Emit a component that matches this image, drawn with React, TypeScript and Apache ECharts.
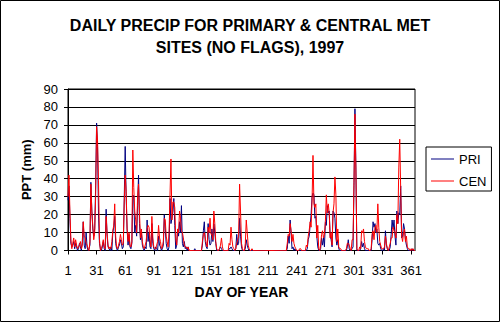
import React, { useEffect, useRef } from "react";
import * as echarts from "echarts";

const titleText = "DAILY PRECIP FOR PRIMARY & CENTRAL MET\nSITES (NO FLAGS), 1997";
const xAxisTitle = "DAY OF YEAR";
const yAxisTitle = "PPT (mm)";
const seriesNames = ["PRI", "CEN"];

const days: string[] = [];
for (let d = 1; d <= 365; d++) days.push(String(d));

const priValues = [
  28, 36, 18, 4, 2, 3, 5, 1, 4, 2,
  0, 1, 4, 2, 0, 5, 16, 3, 1, 10,
  2, 0, 1, 3, 38, 22, 12, 8, 12, 36,
  71, 58, 20, 4, 1, 0, 2, 5, 1, 0,
  23, 8, 2, 1, 0, 2, 0, 10, 13, 19,
  4, 1, 0, 2, 3, 6, 4, 1, 2, 29,
  58, 30, 12, 3, 9, 2, 1, 4, 31, 30,
  10, 14, 8, 25, 42, 15, 6, 10, 3, 1,
  0, 2, 1, 17, 5, 10, 2, 1, 15, 4,
  1, 0, 2, 1, 0, 8, 3, 2, 0, 1,
  3, 20, 12, 4, 1, 0, 2, 29, 15, 18,
  22, 29, 14, 1, 3, 12, 8, 16, 10, 25,
  4, 2, 5, 1, 2, 0, 2, 0, 0, 0,
  0, 0, 0, 1, 0, 0, 0, 0, 0, 0,
  0, 3, 11, 16, 5, 2, 1, 15, 6, 3,
  4, 12, 5, 15, 10, 4, 0, 0, 0, 1,
  2, 1, 0, 0, 0, 0, 0, 0, 0, 1,
  1, 2, 1, 0, 0, 0, 1, 9, 3, 4,
  18, 8, 2, 0, 0, 0, 1, 6, 3, 1,
  0, 0, 0, 0, 0, 0, 0, 0, 0, 0,
  0, 0, 0, 0, 0, 0, 0, 0, 0, 0,
  0, 0, 0, 0, 0, 0, 0, 0, 0, 0,
  0, 0, 0, 0, 0, 0, 0, 0, 0, 0,
  1, 8, 4, 17, 10, 1, 2, 0, 1, 0,
  0, 0, 0, 0, 0, 0, 0, 0, 0, 0,
  0, 1, 6, 8, 14, 20, 30, 32, 31, 18,
  19, 8, 2, 0, 0, 1, 7, 3, 7, 2,
  16, 14, 25, 21, 22, 8, 6, 2, 22, 21,
  18, 7, 3, 6, 1, 0, 0, 0, 0, 0,
  0, 0, 0, 2, 6, 1, 0, 0, 1, 2,
  36, 79, 46, 0, 0, 0, 0, 1, 5, 2,
  4, 1, 0, 0, 0, 0, 0, 0, 0, 6,
  16, 13, 15, 10, 12, 4, 3, 4, 1, 0,
  0, 1, 0, 11, 3, 1, 0, 0, 2, 9,
  17, 12, 17, 8, 3, 22, 15, 21, 20, 36,
  7, 8, 15, 12, 6, 3, 1, 0, 0, 0,
  0, 1, 0, 0, 0,
];

const cenValues = [
  30, 42, 22, 6, 1, 4, 7, 2, 6, 3,
  1, 2, 3, 5, 1, 3, 16, 8, 7, 4,
  3, 1, 0, 5, 37, 22, 14, 6, 10, 30,
  69, 61, 39, 6, 0, 1, 3, 6, 2, 1,
  19, 10, 3, 1, 2, 1, 5, 11, 14, 26,
  8, 2, 1, 3, 5, 9, 6, 3, 4, 27,
  42, 33, 12, 5, 10, 3, 2, 5, 56, 35,
  22, 17, 10, 30, 37, 21, 7, 12, 5, 2,
  1, 3, 5, 12, 14, 13, 6, 2, 19, 7,
  2, 1, 1, 3, 5, 14, 7, 5, 1, 2,
  5, 18, 17, 8, 5, 2, 10, 31, 51, 17,
  27, 27, 24, 7, 3, 12, 10, 22, 18, 11,
  10, 7, 3, 2, 2, 1, 2, 0, 0, 0,
  0, 0, 0, 0, 0, 0, 0, 0, 0, 0,
  0, 5, 9, 10, 7, 4, 2, 13, 10, 18,
  9, 9, 6, 22, 15, 5, 1, 0, 0, 1,
  3, 7, 2, 0, 0, 0, 0, 0, 0, 4,
  3, 13, 6, 2, 1, 0, 1, 4, 6, 8,
  37, 22, 4, 1, 0, 0, 4, 17, 10, 3,
  1, 0, 0, 1, 0, 0, 0, 0, 0, 0,
  0, 0, 0, 0, 0, 0, 0, 0, 0, 0,
  0, 0, 0, 0, 0, 0, 0, 0, 0, 0,
  0, 0, 0, 0, 0, 0, 0, 0, 0, 0,
  4, 9, 8, 15, 11, 5, 9, 4, 2, 1,
  0, 0, 0, 1, 1, 0, 0, 0, 0, 0,
  3, 2, 8, 11, 16, 13, 27, 53, 26, 24,
  26, 7, 14, 1, 0, 3, 9, 11, 7, 9,
  16, 31, 21, 26, 21, 7, 10, 3, 21, 26,
  41, 31, 5, 12, 2, 1, 1, 0, 0, 0,
  0, 0, 1, 4, 4, 3, 1, 0, 6, 6,
  38, 76, 45, 1, 0, 0, 2, 1, 11, 10,
  12, 5, 2, 1, 1, 1, 0, 0, 1, 9,
  11, 6, 13, 14, 10, 26, 13, 5, 3, 1,
  1, 1, 2, 8, 4, 1, 0, 2, 4, 7,
  7, 13, 11, 10, 7, 20, 15, 46, 62, 34,
  8, 5, 10, 12, 5, 8, 2, 1, 1, 0,
  1, 0, 1, 0, 0,
];

const FONT = "'Liberation Sans', Arial, sans-serif";

export default function App() {
  const ref = useRef<HTMLDivElement>(null);
  useEffect(() => {
    document.body.style.margin = "0";
    const chart = echarts.init(ref.current!, null, { renderer: "svg" });
    chart.setOption({
      animation: false,
      backgroundColor: "#fff",
      title: {
        text: titleText,
        left: 250,
        top: 14,
        padding: 0,
        textAlign: "center",
        textStyle: {
          fontFamily: FONT,
          fontSize: 16,
          fontWeight: "bold",
          color: "#000",
          lineHeight: 22,
          align: "center",
        },
      },
      legend: {
        orient: "vertical",
        left: 426,
        top: 147,
        padding: [5, 5, 3, 5],
        itemGap: 8,
        itemWidth: 23,
        itemHeight: 1,
        icon: "rect",
        borderColor: "#000",
        borderWidth: 1,
        borderRadius: 0,
        data: seriesNames,
        textStyle: { fontFamily: FONT, fontSize: 13, color: "#000", lineHeight: 14 },
      },
      grid: {
        left: 68,
        top: 89,
        width: 347,
        height: 161.5,
        show: true,
        borderColor: "#000",
        borderWidth: 1,
        backgroundColor: "transparent",
      },
      xAxis: {
        type: "category",
        data: days,
        boundaryGap: false,
        name: xAxisTitle,
        nameLocation: "middle",
        nameGap: 34,
        nameTextStyle: { fontFamily: FONT, fontSize: 14, fontWeight: "bold", color: "#000" },
        axisLine: { lineStyle: { color: "#000", width: 1 } },
        axisTick: { show: true, interval: 29, length: 4, lineStyle: { color: "#000" } },
        axisLabel: { interval: 29, margin: 13, fontFamily: FONT, fontSize: 13, color: "#000" },
        splitLine: { show: false },
      },
      yAxis: {
        type: "value",
        min: 0,
        max: 90,
        interval: 10,
        name: yAxisTitle,
        nameLocation: "middle",
        nameGap: 35,
        nameRotate: 90,
        nameTextStyle: { fontFamily: FONT, fontSize: 13, fontWeight: "bold", color: "#000" },
        axisLine: { show: true, lineStyle: { color: "#000", width: 1 } },
        axisTick: { show: true, length: 4, lineStyle: { color: "#000" } },
        axisLabel: { margin: 10, fontFamily: FONT, fontSize: 13, color: "#000" },
        splitLine: { show: true, lineStyle: { color: "#000", width: 1 } },
      },
      graphic: [
        {
          type: "rect",
          shape: { x: 0.5, y: 0.5, width: 499, height: 321 },
          style: { fill: "none", stroke: "#000", lineWidth: 1 },
          silent: true,
        },
      ],
      series: [
        {
          name: seriesNames[0],
          type: "line",
          data: priValues,
          symbol: "none",
          lineStyle: { color: "#000080", width: 1 },
          itemStyle: { color: "#000080" },
        },
        {
          name: seriesNames[1],
          type: "line",
          data: cenValues,
          symbol: "none",
          lineStyle: { color: "#ff0000", width: 1 },
          itemStyle: { color: "#ff0000" },
        },
      ],
    });
    return () => chart.dispose();
  }, []);
  return <div ref={ref} style={{ width: 500, height: 322 }} />;
}
